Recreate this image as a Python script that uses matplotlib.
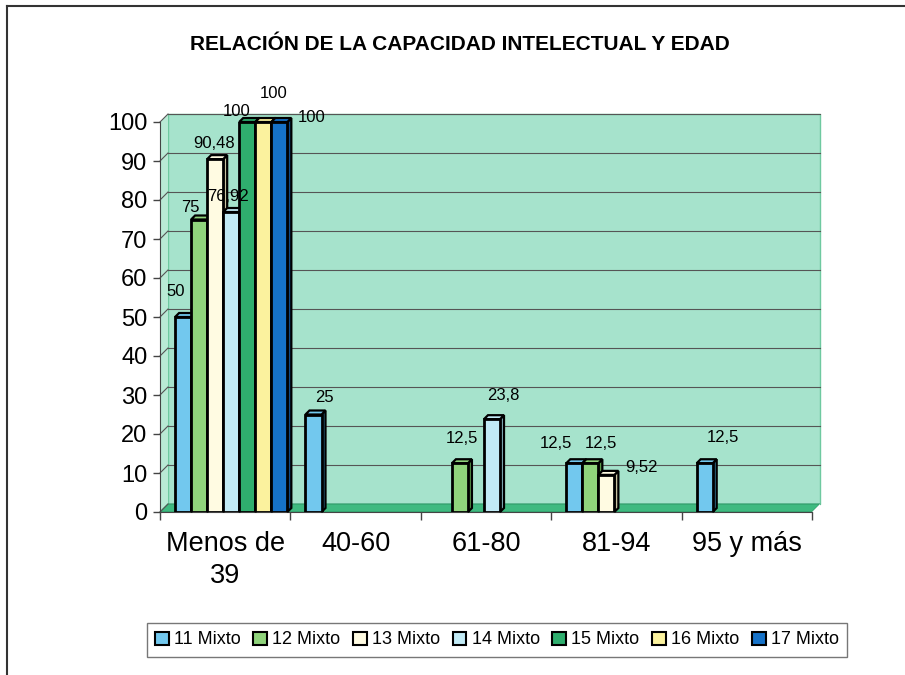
import numpy as np, matplotlib; matplotlib.use("Agg")
import matplotlib.pyplot as plt
from matplotlib.patches import Polygon, Patch
from matplotlib.lines import Line2D

plt.rcParams['font.family'] = ['Liberation Sans', 'DejaVu Sans']

categories = ["Menos de\n39", "40-60", "61-80", "81-94", "95 y más"]
series = ["11 Mixto", "12 Mixto", "13 Mixto", "14 Mixto", "15 Mixto", "16 Mixto", "17 Mixto"]
values = [
    [50, 25, 0, 12.5, 12.5],     # 11 Mixto
    [75, 0, 12.5, 12.5, 0],      # 12 Mixto
    [90.48, 0, 0, 9.52, 0],      # 13 Mixto
    [76.92, 0, 23.8, 0, 0],      # 14 Mixto
    [100, 0, 0, 0, 0],           # 15 Mixto
    [100, 0, 0, 0, 0],           # 16 Mixto
    [100, 0, 0, 0, 0],           # 17 Mixto
]
yticks = list(range(0, 101, 10))

colors = ["#72c8ee", "#90d47c", "#fffbe2", "#c2ebf6", "#2fae6e", "#fbf29e", "#1672c8"]
sides = ["#3d8fb3", "#5b9a4c", "#c9c3a0", "#86b4c0", "#1d7a4a", "#c1b760", "#0d4a88"]
# label offsets in pixels (dx, dy) from bar top centre, (series, category)
lab_off = {(0, 0): (-7, 26), (1, 0): (-9, 12), (2, 0): (-1, 16), (3, 0): (-3, 16),
           (4, 0): (-11, 11), (5, 0): (10, 28), (6, 0): (32, 5),
           (0, 1): (11, 17), (1, 2): (2, 25), (3, 2): (11, 24),
           (0, 3): (-18, 20), (1, 3): (11, 20), (2, 3): (35, 7), (0, 4): (18, 26)}

W, H = 905, 675
fig = plt.figure(figsize=(W / 100, H / 100), dpi=100)
L, R, B, T = 160, 812, 512, 122
ax = fig.add_axes([L / W, 1 - B / H, (R - L) / W, (B - T) / H])
ax.set_xlim(-0.5, 4.5); ax.set_ylim(0, 100)
pxx = 5 / (R - L); pxy = 100 / (B - T)
dx, dy = 8 * pxx, 8 * pxy

wall = "#a6e3cc"
ax.add_patch(Polygon([(-0.5 + dx, dy), (4.5 + dx, dy), (4.5 + dx, 100 + dy), (-0.5 + dx, 100 + dy)],
                     closed=True, fc=wall, ec="#6fc9a0", lw=1, zorder=0, clip_on=False))
ax.add_patch(Polygon([(-0.5, 0), (-0.5, 100), (-0.5 + dx, 100 + dy), (-0.5 + dx, dy)],
                     closed=True, fc="#b9ead5", ec="none", zorder=0, clip_on=False))
ax.add_patch(Polygon([(-0.5, 0), (4.5, 0), (4.5 + dx, dy), (-0.5 + dx, dy)],
                     closed=True, fc="#3fba80", ec="#2f9a68", lw=0.8, zorder=1, clip_on=False))
ax.add_patch(Polygon([(4.5, 0), (4.5 + dx, dy), (4.5 + dx, 0)], closed=True,
                     fc="white", ec="none", zorder=1, clip_on=False))
for v in yticks[1:]:
    ax.plot([-0.5 + dx, 4.5 + dx], [v + dy, v + dy], color="#555555", lw=0.8, zorder=1, clip_on=False)
for v in yticks:
    ax.plot([-0.5, -0.5 + dx], [v, v + dy], color="#555555", lw=0.8, zorder=1, clip_on=False)

w = 0.123
shift = 6 * pxx
bdx, bdy = 4 * pxx, 4 * pxy
x = np.arange(len(categories))
for j, s in enumerate(series):
    vals = np.array(values[j], dtype=float)
    xs = x + (j - 3) * w + shift
    m = vals > 0
    ax.bar(xs[m], vals[m], width=w, color=colors[j], edgecolor="black", lw=2, zorder=3)
    for xc, h in zip(xs[m], vals[m]):
        x0, x1 = xc - w / 2, xc + w / 2
        ax.add_patch(Polygon([(x1, 0), (x1, h), (x1 + bdx, h + bdy), (x1 + bdx, bdy)], closed=True,
                             fc=sides[j], ec="black", lw=1.6, zorder=2.9, clip_on=False))
        ax.add_patch(Polygon([(x0, h), (x1, h), (x1 + bdx, h + bdy), (x0 + bdx, h + bdy)], closed=True,
                             fc=colors[j], ec="black", lw=1.6, zorder=2.9, clip_on=False))
    for i in np.where(m)[0]:
        ox, oy = lab_off[(j, i)]
        ax.annotate(f"{vals[i]:g}".replace(".", ","), (xs[i], vals[i]), xytext=(ox * 0.72, oy * 0.72),
                    textcoords="offset points", ha="center", va="center", fontsize=12, zorder=5)

for sp in ["top", "right"]:
    ax.spines[sp].set_visible(False)
ax.spines["left"].set_color("#444444"); ax.spines["bottom"].set_color("#444444")
ax.set_yticks(yticks)
ax.tick_params(axis="y", labelsize=17, length=5, width=1, color="#444444", pad=4)
ax.set_xticks(x)
ax.set_xticklabels(categories, fontsize=19.5, linespacing=1.3)
ax.tick_params(axis="x", length=0, pad=14)
ax.set_xticks(np.arange(-0.5, 5, 1), minor=True)
ax.tick_params(axis="x", which="minor", length=6, width=1, color="#444444")
ax.set_facecolor("none")

fig.text(460 / W, 1 - 45 / H, "RELACIÓN DE LA CAPACIDAD INTELECTUAL Y EDAD",
         ha="center", va="center", fontsize=15, fontweight="bold")

handles = [Patch(fc=c, ec="black", lw=1.5) for c in colors]
leg = fig.legend(handles, series, loc="center", bbox_to_anchor=(497 / W, 1 - 640 / H), ncol=7,
                 fontsize=13, handlelength=0.75, handleheight=0.75, handletextpad=0.3,
                 columnspacing=0.7, frameon=True, fancybox=False, borderpad=0.45)
leg.get_frame().set_edgecolor("#555555"); leg.get_frame().set_linewidth(1)

fig.add_artist(Line2D([7 / W, 7 / W], [0, 1 - 6 / H], color="#333333", lw=1.5))
fig.add_artist(Line2D([7 / W, 1], [1 - 6 / H, 1 - 6 / H], color="#333333", lw=1.5))

fig.savefig("out.png", dpi=100)
